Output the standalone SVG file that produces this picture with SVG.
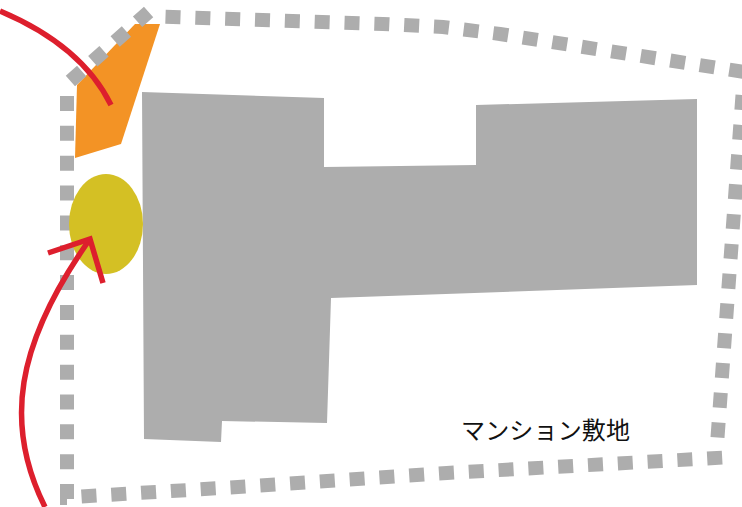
<svg xmlns="http://www.w3.org/2000/svg" width="742" height="507" viewBox="0 0 742 507">
<style>
.bld{fill:#adadad}
.bound{fill:none;stroke:#adadad;stroke-width:14;stroke-dasharray:15 14.85}
.red{fill:none;stroke:#dd1f2d;stroke-width:5.500;stroke-linecap:butt}
text{font-family:"Noto Sans CJK JP","Noto Sans CJK SC",sans-serif;font-size:24px;fill:#111}
</style>
<rect width="742" height="507" fill="#fff"/>
<polygon id="orange-area" points="77,85 135,24 160,24 121,144 75,158" fill="#f39325"/>
<g id="site-boundary">
<path class="bound" d="M81.500 496.500 L89 496 L238 487 L447 473 L722.500 457.600"/>
<path class="bound" d="M717.500 437.500 L742.500 95"/>
<path class="bound" d="M165.500 16.800 L383 24 L443 27 L500 34 L744 72"/>
<path class="bound" d="M70.400 81 L148.600 12"/>
<path class="bound" d="M67 96 L67 505"/>
<rect class="bld" x="60" y="497" width="7" height="8"/>
</g>
<polygon id="building" class="bld" points="142,92 324,98 324,167 476,165 476,105 697,99 697,285 331,298 327,423 222,421 221,442 144,439"/>
<ellipse id="yellow-area" cx="106" cy="224" rx="37" ry="50" fill="#d4c024"/>
<g id="connectors">
<path class="red" d="M0 11 C45 30 88 58 111 105"/>
<path class="red" d="M45 507 C4 425 15 345 90 239"/>
<path class="red" d="M48 253 L90 239 L103 283"/>
</g>
<g id="label"><text x="461" y="439" textLength="169">マンション敷地</text></g>
</svg>
